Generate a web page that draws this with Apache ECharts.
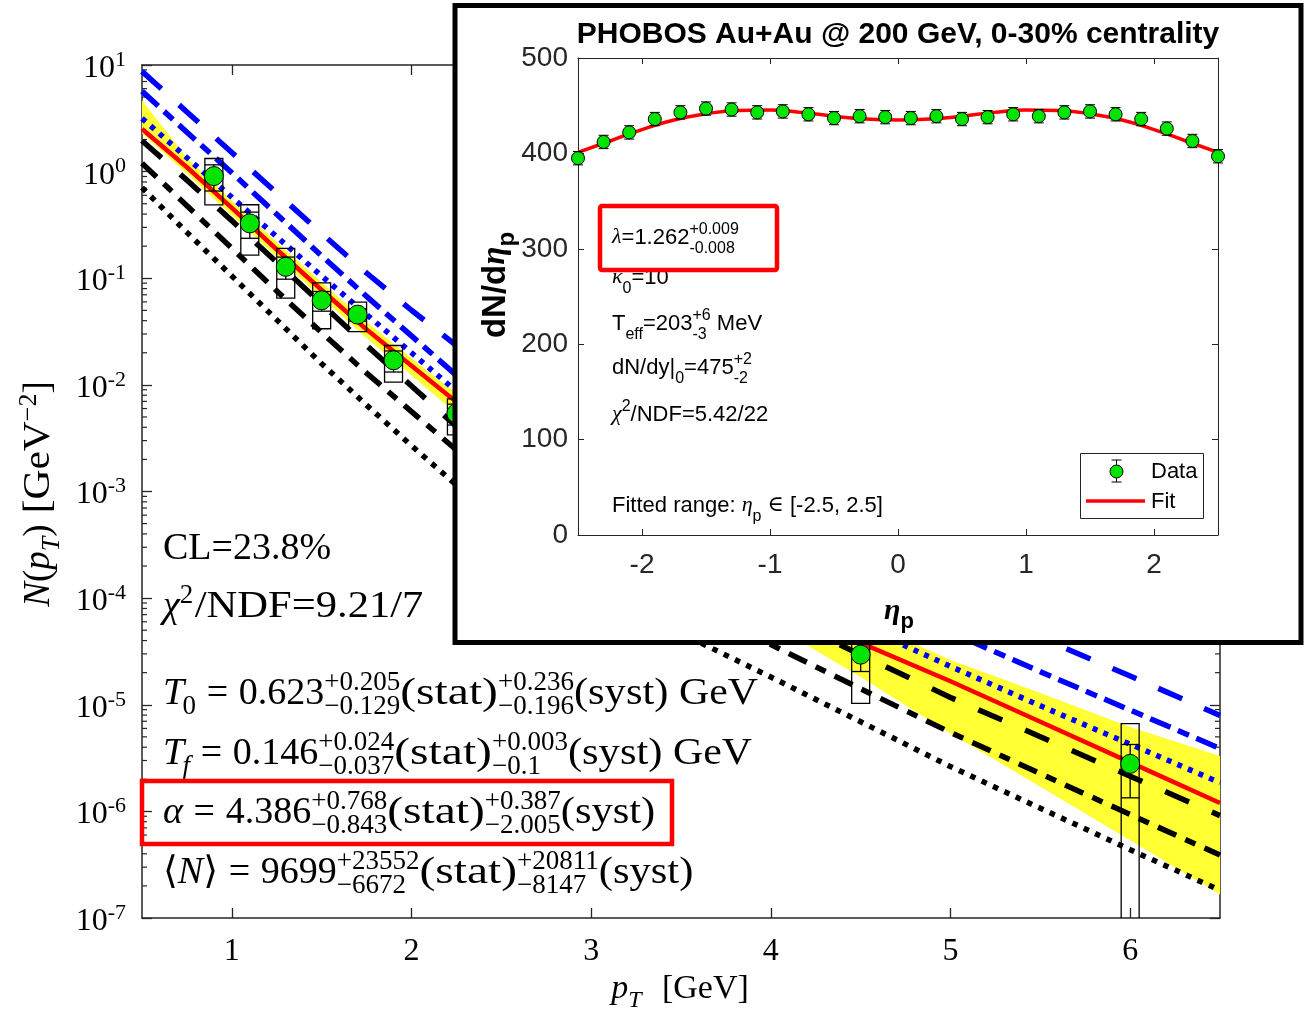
<!DOCTYPE html>
<html>
<head>
<meta charset="utf-8">
<script src="https://cdn.jsdelivr.net/npm/echarts@6/dist/echarts.min.js"></script>
<style>
  html, body { margin: 0; padding: 0; background: #fff; }
  #chart { width: 1309px; height: 1013px; }
</style>
</head>
<body>
<div id="chart"></div>
<script>
// ---------------- transverse-momentum spectrum ----------------
const pT = [0.5, 0.75, 1.0, 1.25, 1.5, 1.75, 2.0, 2.25, 2.5, 3.0, 3.5, 4.0, 4.5, 5.0, 5.5, 6.0, 6.5];

const fitBest      = [2.51, 1.10, 0.457, 0.186, 0.0776, 0.0331, 0.0151, 6.92e-3, 3.31e-3, 8.91e-4, 2.75e-4, 9.55e-5, 3.80e-5, 1.66e-5, 6.92e-6, 2.88e-6, 1.20e-6];
const bandHi       = [4.68, 1.35, 0.537, 0.219, 0.0912, 0.0389, 0.0178, 8.32e-3, 4.07e-3, 1.15e-3, 3.89e-4, 1.48e-4, 6.31e-5, 2.63e-5, 1.29e-5, 6.17e-6, 3.31e-6];
const bandLo       = [2.29, 0.955, 0.389, 0.158, 0.0661, 0.0275, 0.0123, 5.37e-3, 2.45e-3, 6.17e-4, 1.78e-4, 5.75e-5, 1.82e-5, 5.37e-6, 1.70e-6, 5.37e-7, 1.66e-7];

const blueDash     = [8.71, 3.63, 1.51, 0.631, 0.263, 0.112, 0.0501, 0.0234, 0.0117, 3.72e-3, 1.35e-3, 5.37e-4, 2.24e-4, 9.77e-5, 4.27e-5, 1.86e-5, 7.94e-6];
const blueDashDot  = [5.69, 2.34, 0.977, 0.398, 0.162, 0.0676, 0.0288, 0.0123, 5.89e-3, 1.82e-3, 6.46e-4, 2.63e-4, 1.12e-4, 4.79e-5, 2.04e-5, 8.91e-6, 3.89e-6];
const blueDot      = [3.16, 1.35, 0.575, 0.245, 0.105, 0.0457, 0.0200, 8.71e-3, 4.07e-3, 1.17e-3, 3.80e-4, 1.38e-4, 5.50e-5, 2.29e-5, 9.77e-6, 4.27e-6, 1.86e-6];
const blackDash    = [1.95, 0.832, 0.347, 0.141, 0.0575, 0.0234, 9.77e-3, 4.07e-3, 1.95e-3, 5.75e-4, 2.00e-4, 7.41e-5, 2.95e-5, 1.17e-5, 5.01e-6, 2.14e-6, 9.12e-7];
const blackDashDot = [1.20, 0.479, 0.191, 0.0759, 0.0309, 0.0129, 5.62e-3, 2.45e-3, 1.17e-3, 3.24e-4, 1.05e-4, 3.67e-5, 1.41e-5, 5.50e-6, 2.26e-6, 9.33e-7, 3.89e-7];
const blackDot     = [0.708, 0.269, 0.105, 0.0407, 0.0158, 6.46e-3, 2.69e-3, 1.15e-3, 5.25e-4, 1.45e-4, 4.68e-5, 1.82e-5, 6.92e-6, 2.63e-6, 1.07e-6, 4.37e-7, 1.82e-7];

const dataPt   = [0.9, 1.1, 1.3, 1.5, 1.7, 1.9, 2.25, 4.5, 6.0];
const dataN    = [0.908, 0.327, 0.128, 0.0621, 0.0456, 0.0170, 0.0054, 2.95e-5, 2.79e-6];
const statErr  = [0.25, 0.09, 0.03, 0.013, 0.006, 0.0038, 0.0012, 0.9e-5, 1.45e-6];
const systErr  = [0.42, 0.162, 0.063, 0.0285, 0.014, 0.0064, 0.002, 1.92e-5, 3.85e-6];

const pTticks  = [1, 2, 3, 4, 5, 6];

// ---------------- pseudorapidity distribution (inset) ----------------
const eta       = [-2.5, -2.3, -2.1, -1.9, -1.7, -1.5, -1.3, -1.1, -0.9, -0.7, -0.5, -0.3, -0.1,
                   0.1, 0.3, 0.5, 0.7, 0.9, 1.1, 1.3, 1.5, 1.7, 1.9, 2.1, 2.3, 2.5];
const dNdeta    = [395, 412, 422, 436, 443, 447, 446, 443, 444, 441, 437, 439, 438,
                   437, 439, 436, 438, 441, 439, 443, 444, 441, 436, 426, 413, 397];
const dNdetaErr = [7, 7, 7, 7, 7, 7, 7, 7, 7, 7, 7, 7, 7, 7, 7, 7, 7, 7, 7, 7, 7, 7, 7, 7, 7, 7];
const etaFit    = [-2.5, -2.25, -2.0, -1.75, -1.5, -1.25, -1.0, -0.75, -0.5, -0.25, 0,
                   0.25, 0.5, 0.75, 1.0, 1.25, 1.5, 1.75, 2.0, 2.25, 2.5];
const dNdetaFit = [401, 413, 425, 435, 441.5, 445, 445.5, 443, 439, 436, 435,
                   436, 439, 443, 445.5, 445, 441.5, 435, 425, 413, 401];
const etaTicks  = [-2, -1, 0, 1, 2];

// ---------------- styling ----------------
const SERIF = '"Liberation Serif", "DejaVu Serif", serif';
const SANS = '"Liberation Sans", Arial, sans-serif';
const AX = '#262626';
const GREEN = '#00e400';
const P_MIN = 0.5, P_MAX = 6.5, N_MIN = 1e-7, N_MAX = 10;
const BOX_HALF = 0.05;

// text layout with stacked super/subscripts
const MEAS = document.createElement('canvas').getContext('2d');
const BASE_K = 0.34;
function fontOf(size, fam, it, bold) {
  return (it ? 'italic ' : '') + (bold ? 'bold ' : '') + size + 'px ' + fam;
}
function widthOf(t, f) { MEAS.font = f; return MEAS.measureText(t).width; }
function mathRow(parts, o) {
  const kids = [];
  let x = 0;
  const put = (t, px, base, size, it, fam, sx) => {
    const f = fontOf(size, fam, it, o.bold);
    kids.push({ type: 'text', x: px, y: base - BASE_K * size, z: o.z, silent: true, scaleX: sx || 1,
      style: { text: t, font: f, fill: o.fill || '#000', align: 'left', verticalAlign: 'middle' } });
    return widthOf(t, f) * (sx || 1);
  };
  for (const p of parts) {
    if (p.sp) { x += p.sp * o.size; continue; }
    const fam = p.g ? o.gfam : o.fam;
    if (p.t !== undefined) { x += put(p.t, x, 0, o.size, p.i, fam, p.sx); continue; }
    let w = 0;
    const dx = p.k ? p.k * o.size : 0;
    if (p.sup !== undefined) w = Math.max(w, put(p.sup, x, -o.up, o.small, p.i, fam));
    if (p.sub !== undefined) w = Math.max(w, put(p.sub, x + dx, o.down, o.small, p.i, fam) + dx);
    x += w + (p.after || 0) * o.size;
  }
  return { kids, width: x };
}
function rowGroup(parts, o, x, y, extra) {
  const r = mathRow(parts, o);
  return Object.assign({ type: 'group', x, y, z: o.z, children: r.kids }, extra ? extra(r.width) : {});
}

const mainTxt = { size: 38, small: 27, up: 15, down: 9, fam: SERIF, gfam: SERIF, z: 25 };
const insetTxt = { size: 22, small: 16, up: 10, down: 9, fam: SANS, gfam: SERIF, z: 42 };

const STAT = { t: '(stat)', sx: 1.25 };
const SYST = { t: '(syst)', sx: 1.12 };
const GEV = { t: 'GeV', sx: 1.1 };
const mainRows = [
  [562, [{ t: 'CL=23.8%' }]],
  [620, [{ t: 'χ', i: 1 }, { sup: '2', after: 0.04 }, { t: '/NDF=9.21/7', sx: 1.12 }]],
  [707, [{ t: 'T', i: 1 }, { sub: '0', k: -0.04 }, { sp: 0.28 }, { t: '=' }, { sp: 0.28 }, { t: '0.623' },
         { sup: '+0.205', sub: '−0.129' }, STAT, { sup: '+0.236', sub: '−0.196' },
         SYST, { sp: 0.28 }, GEV]],
  [767, [{ t: 'T', i: 1 }, { sub: 'f', i: 1, k: -0.04 }, { sp: 0.28 }, { t: '=' }, { sp: 0.28 }, { t: '0.146' },
         { sup: '+0.024', sub: '−0.037' }, STAT, { sup: '+0.003', sub: '−0.1' },
         SYST, { sp: 0.28 }, GEV]],
  [826, [{ t: 'α', i: 1 }, { sp: 0.28 }, { t: '=' }, { sp: 0.28 }, { t: '4.386' },
         { sup: '+0.768', sub: '−0.843' }, STAT, { sup: '+0.387', sub: '−2.005' }, SYST]],
  [886, [{ t: '⟨' }, { t: 'N', i: 1 }, { t: '⟩' }, { sp: 0.28 }, { t: '=' }, { sp: 0.28 }, { t: '9699' },
         { sup: '+23552', sub: '−6672' }, STAT, { sup: '+20811', sub: '−8147' }, SYST]]
];

const insetRows = [
  [245, [{ t: 'λ', i: 1, g: 1 }, { t: '=1.262' }, { sup: '+0.009', sub: '-0.008' }]],
  [331, [{ t: 'T' }, { sub: 'eff' }, { t: '=203' }, { sup: '+6', sub: '-3' }, { t: ' MeV' }]],
  [375, [{ t: 'dN/dy|' }, { sub: '0' }, { t: '=475' }, { sup: '+2', sub: '-2' }]],
  [422, [{ t: 'χ', i: 1, g: 1 }, { sup: '2' }, { t: '/NDF=5.42/22' }]],
  [513, [{ t: 'Fitted range: ' }, { t: 'η', i: 1, g: 1 }, { sub: 'p' }, { t: ' ' }, { t: '∈', g: 1 }, { t: ' [-2.5, 2.5]' }]]
];

const graphics = [];
// inset frame
graphics.push({ type: 'rect', z: 20, silent: true, shape: { x: 455, y: 5.5, width: 846, height: 637 },
  style: { fill: '#fff', stroke: '#000', lineWidth: 5 } });
// fit summary on the spectrum
mainRows.forEach(([y, parts]) => graphics.push(rowGroup(parts, mainTxt, 163, y)));
graphics.push({ type: 'rect', z: 26, silent: true, shape: { x: 142, y: 781, width: 530, height: 63 },
  style: { fill: 'none', stroke: '#ff0000', lineWidth: 4.5 } });
// axis names of the spectrum
const nameTxt = { size: 34, small: 24, up: 13, down: 8, fam: SERIF, gfam: SERIF, z: 25 };
const yNameTxt = { size: 37, small: 26, up: 14, down: 9, fam: SERIF, gfam: SERIF, z: 25 };
graphics.push(rowGroup([{ t: 'N', i: 1 }, { t: '(' }, { t: 'p', i: 1 }, { sub: 'T', i: 1 }, { t: ')' }, { sp: 0.3 },
  { t: '[GeV', sx: 1.12 }, { sup: '−2' }, { t: ']' }], yNameTxt, 52, 0,
  w => ({ y: 494 + w / 2, rotation: Math.PI / 2 })));
graphics.push(rowGroup([{ t: 'p', i: 1 }, { sub: 'T', i: 1 }, { sp: 0.6 }, { t: '[GeV]' }], nameTxt, 0, 1001,
  w => ({ x: 680 - w / 2 })));

// inset texts
graphics.push({ type: 'text', z: 42, silent: true, x: 898, y: 45 - BASE_K * 30,
  style: { text: 'PHOBOS Au+Au @ 200 GeV, 0-30% centrality', font: fontOf(30, SANS, false, true),
    fill: '#000', align: 'center', verticalAlign: 'middle' } });
graphics.push(rowGroup([{ t: 'κ', i: 1, g: 1 }, { sub: '0' }, { t: '=10' }], Object.assign({}, insetTxt, { z: 40 }), 612, 285));
graphics.push({ type: 'rect', z: 41, silent: true, shape: { x: 600, y: 206, width: 177, height: 64, r: 2 },
  style: { fill: '#fff', stroke: '#ff0000', lineWidth: 4.5 } });
insetRows.forEach(([y, parts]) => graphics.push(rowGroup(parts, insetTxt, 612, y)));
const insetYName = { size: 33, small: 24, up: 12, down: 9, fam: SANS, gfam: SERIF, bold: true, z: 42 };
const insetXName = { size: 30, small: 22, up: 11, down: 8, fam: SANS, gfam: SERIF, bold: true, z: 42 };
graphics.push(rowGroup([{ t: 'dN/d' }, { t: 'η', i: 1, g: 1 }, { sub: 'p' }], insetYName, 507, 0,
  w => ({ y: 285 + w / 2, rotation: Math.PI / 2 })));
graphics.push(rowGroup([{ t: 'η', i: 1, g: 1 }, { sub: 'p' }], insetXName, 0, 621,
  w => ({ x: 899 - w / 2 })));
// inset legend
graphics.push({ type: 'rect', z: 42, silent: true, shape: { x: 1080.5, y: 453.5, width: 123, height: 65 },
  style: { fill: '#fff', stroke: AX, lineWidth: 1 } });
graphics.push({ type: 'line', z: 43, silent: true, shape: { x1: 1116.5, y1: 460, x2: 1116.5, y2: 482 }, style: { stroke: '#000', lineWidth: 1 } });
graphics.push({ type: 'line', z: 43, silent: true, shape: { x1: 1111.5, y1: 460, x2: 1121.5, y2: 460 }, style: { stroke: '#000', lineWidth: 1 } });
graphics.push({ type: 'line', z: 43, silent: true, shape: { x1: 1111.5, y1: 482, x2: 1121.5, y2: 482 }, style: { stroke: '#000', lineWidth: 1 } });
graphics.push({ type: 'circle', z: 44, silent: true, shape: { cx: 1116.5, cy: 471.5, r: 6.5 }, style: { fill: GREEN, stroke: '#000', lineWidth: 1 } });
graphics.push({ type: 'line', z: 43, silent: true, shape: { x1: 1086, y1: 501, x2: 1145, y2: 501 }, style: { stroke: '#ff0000', lineWidth: 3.5 } });
graphics.push({ type: 'text', z: 43, silent: true, x: 1151, y: 472, style: { text: 'Data', font: fontOf(22, SANS), fill: '#000', verticalAlign: 'middle' } });
graphics.push({ type: 'text', z: 43, silent: true, x: 1151, y: 502, style: { text: 'Fit', font: fontOf(22, SANS), fill: '#000', verticalAlign: 'middle' } });

// minor ticks of the logarithmic axis
const minorVals = [];
for (let e = -7; e < 1; e++) for (let m = 2; m <= 9; m++) minorVals.push(m * Math.pow(10, e));

function curve(vals, color, width, dash, z) {
  return {
    type: 'line', xAxisIndex: 0, yAxisIndex: 0, z: z || 3, symbol: 'none', smooth: false,
    data: pT.map((x, i) => [x, vals[i]]),
    lineStyle: { color, width, type: dash || 'solid', cap: 'butt', join: 'round' }
  };
}

const noZero = { onZero: false };
const chart = echarts.init(document.getElementById('chart'), null, { renderer: 'canvas' });
chart.setOption({
  animation: false,
  backgroundColor: '#fff',
  grid: [
    { left: 142, top: 65, width: 1078, height: 853 },
    { left: 578, top: 58, width: 640, height: 477 }
  ],
  xAxis: [
    { gridIndex: 0, type: 'value', min: P_MIN, max: P_MAX, position: 'bottom',
      axisLine: Object.assign({ lineStyle: { color: AX, width: 1.5 } }, noZero),
      axisTick: { inside: true, length: 10, customValues: pTticks, lineStyle: { color: AX, width: 1.3 } },
      axisLabel: { customValues: pTticks, margin: 18, fontFamily: SERIF, fontSize: 32, color: '#000' },
      splitLine: { show: false } },
    { gridIndex: 0, type: 'value', min: P_MIN, max: P_MAX, position: 'top',
      axisLine: Object.assign({ lineStyle: { color: AX, width: 1.5 } }, noZero),
      axisTick: { inside: true, length: 10, customValues: pTticks, lineStyle: { color: AX, width: 1.3 } },
      axisLabel: { show: false }, splitLine: { show: false } },
    { gridIndex: 1, type: 'value', min: -2.5, max: 2.5, position: 'bottom', z: 30,
      axisLine: Object.assign({ lineStyle: { color: AX, width: 1 } }, noZero),
      axisTick: { inside: true, length: 6, customValues: etaTicks, lineStyle: { color: AX } },
      axisLabel: { customValues: etaTicks, margin: 16, fontFamily: SANS, fontSize: 28, color: AX },
      splitLine: { show: false } },
    { gridIndex: 1, type: 'value', min: -2.5, max: 2.5, position: 'top', z: 30,
      axisLine: Object.assign({ lineStyle: { color: AX, width: 1 } }, noZero),
      axisTick: { inside: true, length: 6, customValues: etaTicks, lineStyle: { color: AX } },
      axisLabel: { show: false }, splitLine: { show: false } }
  ],
  yAxis: [
    { gridIndex: 0, type: 'log', logBase: 10, min: N_MIN, max: N_MAX, splitNumber: 8, position: 'left',
      axisLine: Object.assign({ show: true, lineStyle: { color: AX, width: 1.5 } }, noZero),
      axisTick: { show: true, inside: true, length: 10, lineStyle: { color: AX, width: 1.3 } },
      axisLabel: {
        margin: 16,
        formatter: v => {
          const e = Math.round(Math.log10(v));
          return '{b|10}{e|' + (e < 0 ? '-' : '') + Math.abs(e) + '}';
        },
        rich: {
          b: { fontFamily: SERIF, fontSize: 32, lineHeight: 32, color: '#000', padding: [7, 0, 0, 0] },
          e: { fontFamily: SERIF, fontSize: 22, lineHeight: 22, color: '#000', verticalAlign: 'top' }
        }
      },
      splitLine: { show: false } },
    { gridIndex: 0, type: 'log', logBase: 10, min: N_MIN, max: N_MAX, splitNumber: 8, position: 'right',
      axisLine: Object.assign({ show: true, lineStyle: { color: AX, width: 1.5 } }, noZero),
      axisTick: { show: true, inside: true, length: 10, lineStyle: { color: AX, width: 1.3 } },
      axisLabel: { show: false }, splitLine: { show: false } },
    { gridIndex: 1, type: 'value', min: 0, max: 500, interval: 100, position: 'left', z: 30,
      axisLine: Object.assign({ show: true, lineStyle: { color: AX, width: 1 } }, noZero),
      axisTick: { show: true, inside: true, length: 6, lineStyle: { color: AX } },
      axisLabel: { margin: 10, fontFamily: SANS, fontSize: 28, color: AX },
      splitLine: { show: false } },
    { gridIndex: 1, type: 'value', min: 0, max: 500, interval: 100, position: 'right', z: 30,
      axisLine: Object.assign({ show: true, lineStyle: { color: AX, width: 1 } }, noZero),
      axisTick: { show: true, inside: true, length: 6, lineStyle: { color: AX } },
      axisLabel: { show: false }, splitLine: { show: false } }
  ],
  graphic: { elements: graphics },
  series: [
    // minor ticks on both vertical borders
    { type: 'custom', xAxisIndex: 0, yAxisIndex: 0, z: 1, silent: true, clip: false,
      data: minorVals.map(v => [P_MIN, v]),
      renderItem(params, api) {
        const v = api.value(1);
        const l = api.coord([P_MIN, v]), r = api.coord([P_MAX, v]);
        const st = { stroke: AX, lineWidth: 1.2 };
        return { type: 'group', children: [
          { type: 'line', shape: { x1: l[0], y1: l[1], x2: l[0] + 5, y2: l[1] }, style: st },
          { type: 'line', shape: { x1: r[0] - 5, y1: r[1], x2: r[0], y2: r[1] }, style: st }
        ] };
      } },
    // uncertainty band of the fit
    { type: 'custom', xAxisIndex: 0, yAxisIndex: 0, z: 2, silent: true, clip: true,
      data: [[pT[0], bandHi[0]]],
      renderItem(params, api) {
        const upper = pT.map((x, i) => api.coord([x, bandHi[i]]));
        const lower = pT.map((x, i) => api.coord([x, bandLo[i]])).reverse();
        return { type: 'polygon', shape: { points: upper.concat(lower) }, style: { fill: '#ffff33' } };
      } },
    curve(blackDot, '#000', 5.5, [5.5, 7]),
    curve(blackDashDot, '#000', 5.5, [20, 10, 11, 10]),
    curve(blackDash, '#000', 5.5, [26, 25]),
    curve(blueDot, '#0000ff', 5.5, [5, 6.5]),
    curve(blueDashDot, '#0000ff', 5.5, [22, 8, 12, 8]),
    curve(blueDash, '#0000ff', 5.5, [26, 24]),
    curve(fitBest, '#ff0000', 4.5, 'solid', 4),
    // systematic boxes and statistical error bars
    { type: 'custom', xAxisIndex: 0, yAxisIndex: 0, z: 5, silent: true, clip: true,
      data: dataPt.map((x, i) => [x, dataN[i], statErr[i], systErr[i]]),
      renderItem(params, api) {
        const x = api.value(0), y = api.value(1), st = api.value(2), sy = api.value(3);
        const floor = 1e-9;
        const a = api.coord([x - BOX_HALF, y + sy]);
        const b = api.coord([x + BOX_HALF, Math.max(y - sy, floor)]);
        const s1 = api.coord([x, y + st]);
        const s2 = api.coord([x, Math.max(y - st, floor)]);
        const ls = { stroke: '#000', lineWidth: 1.3, fill: 'none' };
        return { type: 'group', children: [
          { type: 'rect', shape: { x: a[0], y: a[1], width: b[0] - a[0], height: b[1] - a[1] }, style: ls },
          { type: 'line', shape: { x1: s1[0], y1: s1[1], x2: s2[0], y2: s2[1] }, style: ls },
          { type: 'line', shape: { x1: a[0], y1: s1[1], x2: b[0], y2: s1[1] }, style: ls },
          { type: 'line', shape: { x1: a[0], y1: s2[1], x2: b[0], y2: s2[1] }, style: ls }
        ] };
      } },
    { type: 'scatter', xAxisIndex: 0, yAxisIndex: 0, z: 6, silent: true, clip: false,
      data: dataPt.map((x, i) => [x, dataN[i]]),
      symbol: 'circle', symbolSize: 19,
      itemStyle: { color: GREEN, borderColor: '#000', borderWidth: 1, opacity: 1 } },

    // inset: fit curve, error bars, data
    { type: 'line', xAxisIndex: 2, yAxisIndex: 2, z: 32, symbol: 'none', smooth: true, silent: true,
      data: etaFit.map((x, i) => [x, dNdetaFit[i]]),
      lineStyle: { color: '#ff0000', width: 3.5 } },
    { type: 'custom', xAxisIndex: 2, yAxisIndex: 2, z: 33, silent: true, clip: false,
      data: eta.map((x, i) => [x, dNdeta[i], dNdetaErr[i]]),
      renderItem(params, api) {
        const x = api.value(0), y = api.value(1), e = api.value(2);
        const t = api.coord([x, y + e]), b = api.coord([x, y - e]);
        const ls = { stroke: '#000', lineWidth: 1 };
        return { type: 'group', children: [
          { type: 'line', shape: { x1: t[0], y1: t[1], x2: b[0], y2: b[1] }, style: ls },
          { type: 'line', shape: { x1: t[0] - 5, y1: t[1], x2: t[0] + 5, y2: t[1] }, style: ls },
          { type: 'line', shape: { x1: b[0] - 5, y1: b[1], x2: b[0] + 5, y2: b[1] }, style: ls }
        ] };
      } },
    { type: 'scatter', xAxisIndex: 2, yAxisIndex: 2, z: 34, silent: true, clip: false,
      data: eta.map((x, i) => [x, dNdeta[i]]),
      symbol: 'circle', symbolSize: 13,
      itemStyle: { color: GREEN, borderColor: '#000', borderWidth: 1, opacity: 1 } }
  ]
});
</script>
</body>
</html>
